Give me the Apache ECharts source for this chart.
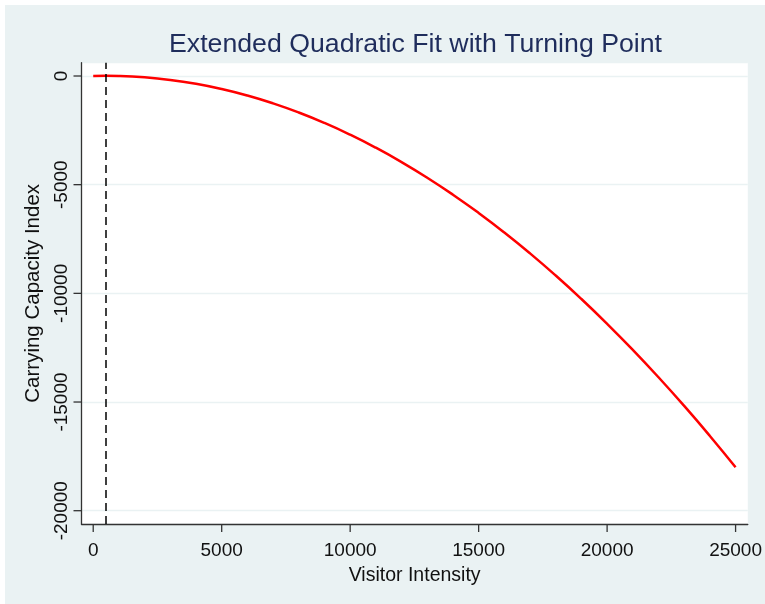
<!DOCTYPE html>
<html>
<head>
<meta charset="utf-8">
<script src="https://cdn.jsdelivr.net/npm/echarts@6/dist/echarts.min.js"></script>
<style>
  html, body { margin: 0; padding: 0; background: #ffffff; }
  #frame {
    position: absolute; left: 5px; top: 5px;
    width: 760px; height: 599px; background: #eaf2f3;
  }
  #chart { position: absolute; left: 0; top: 0; width: 765px; height: 604px; }
</style>
</head>
<body>
<div id="frame"></div>
<div id="chart"></div>
<script>
// fitted curve
const visitorIntensity = [0, 500, 1000, 2000, 3000, 4000, 5000, 6000, 7000, 8000, 9000, 10000,
  11000, 12000, 13000, 14000, 15000, 16000, 17000, 18000, 19000, 20000,
  21000, 22000, 23000, 24000, 25000];
const carryingCapacity = [0, 8, 0, -60, -180, -360, -600, -900, -1260, -1680, -2160, -2700,
  -3300, -3960, -4680, -5460, -6300, -7200, -8160, -9180, -10260, -11400,
  -12600, -13860, -15180, -16560, -18000];
const turningPoint = 500;
const xTicks = [0, 5000, 10000, 15000, 20000, 25000];
const yTicks = [0, -5000, -10000, -15000, -20000];

// plot region extends a bit past the data range, like Stata does
const xMin = -456, xMax = 25475;
const yMin = -20612, yMax = 612;

const chart = echarts.init(document.getElementById("chart"));
const font = "Liberation Sans, Arial, sans-serif";
const ink = "#333";
const plain = (v) => String(v);
const tickLen = 8;

// outward tick marks, placed through the axis scales
const tickSeries = (values, horizontal) => ({
  type: "custom",
  silent: true,
  clip: false,
  z: 5,
  data: values.map((v) => (horizontal ? [v, yMin] : [xMin, v])),
  renderItem: (params, api) => {
    const p = api.coord([api.value(0), api.value(1)]);
    const shape = horizontal
      ? { x1: p[0], y1: p[1], x2: p[0], y2: p[1] + tickLen }
      : { x1: p[0], y1: p[1], x2: p[0] - tickLen, y2: p[1] };
    return { type: "line", shape, style: { stroke: ink, lineWidth: 1.3 } };
  },
});

chart.setOption({
  animation: false,
  textStyle: { fontFamily: font },
  title: {
    text: "Extended Quadratic Fit with Turning Point",
    left: 164,
    top: 26,
    textStyle: { color: "#1f2d5c", fontSize: 26.7, fontWeight: "normal", fontFamily: font },
  },
  grid: { left: 81.5, right: 12, top: 62.7, bottom: 80, show: true, backgroundColor: "#ffffff", borderWidth: 0 },
  xAxis: {
    type: "value", min: xMin, max: xMax,
    name: "Visitor Intensity", nameLocation: "middle", nameGap: 35,
    nameTextStyle: { color: "#111", fontSize: 19.5 },
    axisLine: { show: true, onZero: false, lineStyle: { color: ink, width: 1.3 } },
    axisTick: { show: false },
    axisLabel: { customValues: xTicks, formatter: plain, color: "#111", fontSize: 19, margin: 17.5 },
    splitLine: { show: false },
  },
  yAxis: {
    type: "value", min: yMin, max: yMax,
    name: "Carrying Capacity Index", nameLocation: "middle", nameGap: 30, nameRotate: 90,
    nameTextStyle: { color: "#111", fontSize: 20.5 },
    axisLine: { show: true, onZero: false, lineStyle: { color: ink, width: 1.3 } },
    axisTick: { show: false },
    axisLabel: { customValues: yTicks, formatter: plain, rotate: 90, color: "#111", fontSize: 19, margin: 10.5 },
    splitLine: { show: true, customValues: yTicks, lineStyle: { color: "#eaf2f3", width: 1.3 } },
  },
  series: [
    {
      type: "line",
      data: visitorIntensity.map((x, i) => [x, carryingCapacity[i]]),
      smooth: true,
      showSymbol: false,
      lineStyle: { color: "#ff0000", width: 2.5 },
      markLine: {
        silent: true,
        symbol: "none",
        label: { show: false },
        lineStyle: { color: "#000", type: [8, 5], width: 1.5 },
        data: [{ xAxis: turningPoint }],
      },
    },
    tickSeries(xTicks, true),
    tickSeries(yTicks, false),
  ],
});
</script>
</body>
</html>
